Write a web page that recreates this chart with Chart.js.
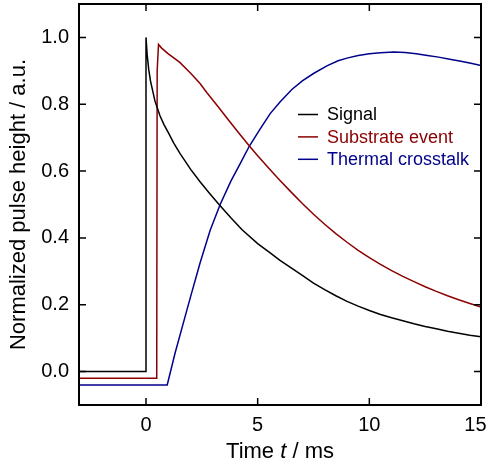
<!DOCTYPE html>
<html>
<head>
<meta charset="utf-8">
<script src="https://cdn.jsdelivr.net/npm/chart.js@4.4.0/dist/chart.umd.min.js"></script>
<style>
  body { margin: 0; background: #fff; }
  #wrap { width: 487px; height: 465px; position: relative; }
</style>
</head>
<body>
<div id="wrap"><canvas id="pulse-chart"></canvas></div>
<script>
// ====== DATA ======
const xTicks = [0, 5, 10, 15];
const yTicks = [0.0, 0.2, 0.4, 0.6, 0.8, 1.0];

const signalT = [-3, 0, 0, 0.05, 0.12, 0.2, 0.3, 0.4, 0.5, 0.63, 0.8, 1.0, 1.25, 1.52, 2.0, 2.42, 2.85, 3.27, 3.8, 4.29, 5.0, 5.56, 6.0, 6.5, 7.0, 7.5, 8.0, 8.5, 9.0, 9.5, 10.0, 10.5, 11.0, 11.5, 12.0, 12.5, 13.0, 13.5, 14.0, 14.5, 15.0];
const signalV = [0, 0, 1.0, 0.95, 0.905, 0.87, 0.84, 0.81, 0.79, 0.765, 0.74, 0.715, 0.683, 0.653, 0.605, 0.568, 0.533, 0.50, 0.46, 0.425, 0.383, 0.355, 0.333, 0.31, 0.288, 0.265, 0.245, 0.227, 0.21, 0.196, 0.183, 0.171, 0.161, 0.152, 0.143, 0.135, 0.128, 0.121, 0.115, 0.109, 0.104];

const substrateT = [-3, 0.48, 0.5, 0.56, 0.7, 1.0, 1.5, 2.0, 2.42, 2.72, 3.24, 3.7, 4.2, 4.63, 5.0, 5.56, 6.0, 6.5, 7.0, 7.5, 8.0, 8.5, 9.0, 9.5, 10.0, 10.5, 11.0, 11.5, 12.0, 12.5, 13.0, 13.5, 14.0, 14.5, 15.0];
const substrateV = [-0.02, -0.02, 0.90, 0.979, 0.968, 0.951, 0.926, 0.893, 0.862, 0.835, 0.792, 0.752, 0.71, 0.675, 0.646, 0.604, 0.572, 0.537, 0.503, 0.471, 0.441, 0.413, 0.387, 0.363, 0.341, 0.321, 0.302, 0.285, 0.269, 0.254, 0.24, 0.227, 0.215, 0.204, 0.193];

const crosstalkT = [-3, 0.95, 1.3, 1.67, 2.0, 2.42, 2.87, 3.32, 3.8, 4.2, 4.63, 5.1, 5.56, 6.0, 6.53, 7.0, 7.5, 8.1, 8.6, 9.0, 9.5, 10.0, 10.5, 11.1, 11.6, 12.1, 12.6, 13.1, 13.6, 14.1, 14.6, 15.0];
const crosstalkV = [-0.04, -0.04, 0.055, 0.145, 0.225, 0.325, 0.422, 0.50, 0.57, 0.62, 0.675, 0.725, 0.772, 0.807, 0.844, 0.87, 0.892, 0.915, 0.93, 0.938, 0.946, 0.951, 0.954, 0.956, 0.955, 0.951, 0.946, 0.941, 0.935, 0.929, 0.922, 0.916];

const FONT = "'Liberation Sans', Arial, sans-serif";

function toPoints(ts, vs) {
  return ts.map((t, i) => ({ x: t, y: vs[i] }));
}

// ====== FRAME, INNER TICKS, LEGEND, X TITLE ======
const framePlugin = {
  id: "frame",
  afterDraw(chart) {
    const { ctx, chartArea: a, scales: { x, y } } = chart;
    ctx.save();
    ctx.strokeStyle = "#000";
    ctx.lineWidth = 1.5;
    const len = 7;
    ctx.beginPath();
    xTicks.forEach(v => {
      const px = x.getPixelForValue(v);
      ctx.moveTo(px, a.bottom); ctx.lineTo(px, a.bottom - len);
      ctx.moveTo(px, a.top); ctx.lineTo(px, a.top + len);
    });
    yTicks.forEach(v => {
      const py = y.getPixelForValue(v);
      ctx.moveTo(a.left, py); ctx.lineTo(a.left + len, py);
      ctx.moveTo(a.right, py); ctx.lineTo(a.right - len, py);
    });
    ctx.stroke();
    ctx.lineWidth = 2;
    ctx.strokeRect(a.left, a.top, a.right - a.left, a.bottom - a.top);

    // legend
    ctx.font = "18px " + FONT;
    ctx.textBaseline = "middle";
    ctx.textAlign = "left";
    chart.data.datasets.forEach((ds, i) => {
      const ly = 114.5 + i * 22.4;
      ctx.strokeStyle = ds.borderColor;
      ctx.lineWidth = 1.5;
      ctx.beginPath();
      ctx.moveTo(298, ly); ctx.lineTo(318, ly);
      ctx.stroke();
      ctx.fillStyle = ds.borderColor;
      ctx.fillText(ds.label, 327, ly + 1);
    });

    // x title with italic t
    const parts = [["Time ", ""], ["t", "italic "], [" / ms", ""]];
    let total = 0;
    parts.forEach(p => { ctx.font = p[1] + "22px " + FONT; total += ctx.measureText(p[0]).width; });
    let cx = (a.left + a.right) / 2 - total / 2;
    ctx.fillStyle = "#000";
    ctx.textBaseline = "alphabetic";
    parts.forEach(p => {
      ctx.font = p[1] + "22px " + FONT;
      ctx.fillText(p[0], cx, 457.5);
      cx += ctx.measureText(p[0]).width;
    });
    ctx.restore();
  }
};

const ctx = document.getElementById("pulse-chart").getContext("2d");
new Chart(ctx, {
  type: "line",
  data: {
    datasets: [
      { label: "Signal", data: toPoints(signalT, signalV), borderColor: "#000000" },
      { label: "Substrate event", data: toPoints(substrateT, substrateV), borderColor: "#8b0000" },
      { label: "Thermal crosstalk", data: toPoints(crosstalkT, crosstalkV), borderColor: "#00008b" }
    ].map(d => Object.assign(d, { borderWidth: 1.5, pointRadius: 0, tension: 0, fill: false }))
  },
  options: {
    responsive: true,
    maintainAspectRatio: false,
    animation: false,
    layout: { padding: { top: 4, right: 6, left: 0, bottom: 0 } },
    plugins: { legend: { display: false }, tooltip: { enabled: false } },
    scales: {
      x: {
        type: "linear",
        min: -3, max: 15,
        afterBuildTicks: s => { s.ticks = xTicks.map(v => ({ value: v })); },
        afterFit: s => { s.height = 60; s.paddingLeft = 0; s.paddingRight = 0; },
        grid: { display: false, drawTicks: false },
        border: { display: false },
        // last label is nudged left so it stays inside the canvas, like the original
        ticks: { color: "#000", padding: 8, maxRotation: 0, font: { size: 20, family: FONT },
                 callback: v => v === 15 ? "15  " : String(v) },
        title: { display: false }
      },
      y: {
        min: -0.1, max: 1.1,
        afterBuildTicks: s => { s.ticks = yTicks.map(v => ({ value: v })); },
        afterFit: s => { s.width = 79; s.paddingTop = 0; s.paddingBottom = 0; },
        grid: { display: false, drawTicks: false },
        border: { display: false },
        ticks: { color: "#000", padding: 10, font: { size: 20, family: FONT }, callback: v => v.toFixed(1) },
        title: { display: true, text: "Normalized pulse height / a.u.", color: "#000", padding: { top: 6 }, font: { size: 22, family: FONT } }
      }
    }
  },
  plugins: [framePlugin]
});
</script>
</body>
</html>
